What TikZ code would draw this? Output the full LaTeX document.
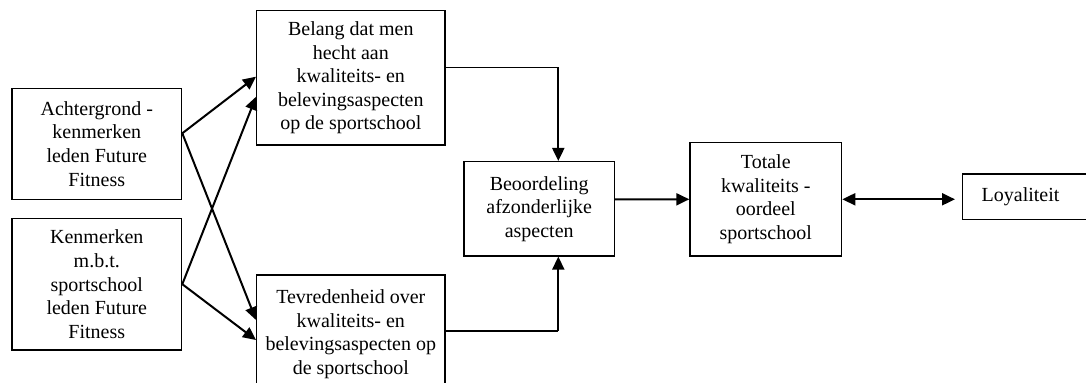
\documentclass[tikz,border=0pt]{standalone}
\usepackage{fontspec}
\setmainfont{Liberation Serif}
\usetikzlibrary{arrows.meta,calc}
\begin{document}
\begin{tikzpicture}[x=0.5pt,y=-0.5pt,
  box/.style={draw,line width=0.65pt,inner sep=0pt,align=center,
    font=\fontsize{10pt}{11.8pt}\selectfont},
  arr/.style={line width=1pt,-{Triangle[length=6.5pt,width=6pt]}},
  dbl/.style={line width=1pt,
    {Triangle[length=6.5pt,width=6pt]}-{Triangle[length=6.5pt,width=6pt]}},
  feed/.style={line width=0.55pt}]
\useasboundingbox (0,0) rectangle (1086,383);
\clip (0,0) rectangle (1086,383);

% input boxes
\node[box,minimum width=84.85pt,minimum height=55.6pt] (A) at (96.8,143.9)
  {Achtergrond -\\kenmerken\\leden Future\\Fitness};
\node[box,minimum width=84.85pt,minimum height=65.85pt] (K) at (96.8,284.2)
  {Kenmerken\\m.b.t.\\sportschool\\leden Future\\Fitness};

% importance and satisfaction
\node[box,minimum width=94.15pt,minimum height=67.15pt] (Belang) at (350.8,77.8)
  {Belang dat men\\hecht aan\\kwaliteits- en\\belevingsaspecten\\op de sportschool};
\node[box,minimum width=94.15pt,minimum height=59pt] (Tevr) at (350.8,334)
  {Tevredenheid over\\kwaliteits- en\\belevingsaspecten op\\de sportschool};

% evaluation chain
\node[box,minimum width=75.25pt,minimum height=47.15pt] (Beo) at (539.2,208.8)
  {Beoordeling\\afzonderlijke\\aspecten};
\node[box,minimum width=75.85pt,minimum height=56.65pt] (Tot) at (765.8,199.3)
  {Totale\\kwaliteits -\\oordeel\\sportschool};
\node[box,anchor=west,minimum height=22.65pt,inner xsep=9.5pt,
  text width=60pt,align=left] (Loy) at (962,196.7) {Loyaliteit};

% crossing arrows from the inputs
\draw[arr] ($(A.east)+(0,-10.6)$) -- ($(Belang.west)+(0,-1.1)$);
\draw[arr] ($(A.east)+(0,-10.6)$) -- ($(Tevr.west)+(0,-14)$);
\draw[arr] (K.east) -- ($(Belang.west)+(0,19)$);
\draw[arr] (K.east) -- ($(Tevr.west)+(0,6)$);

% feeds into the evaluation box
\coordinate (bt) at ($(Beo.north)+(19.1,0)$);
\coordinate (bb) at ($(Beo.south)+(19.1,0)$);
\coordinate (be) at ($(Belang.east)+(0,-10.5)$);
\coordinate (te) at ($(Tevr.east)+(0,-3)$);
\draw[feed] (be) -- (be -| bt);
\draw[arr] (be -| bt) -- (bt);
\draw[feed] (te) -- (te -| bb);
\draw[arr] (te -| bb) -- (bb);

\draw[arr] ($(Beo.east)+(0,-9.3)$) -- (Tot.west);
\draw[dbl,shorten >=3.5pt] (Tot.east) -- (Tot.east -| Loy.west);
\end{tikzpicture}
\end{document}
